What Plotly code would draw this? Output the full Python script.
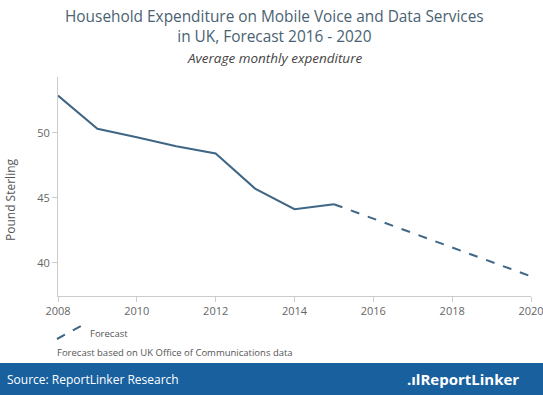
import plotly.graph_objects as go

actual_years = [2008, 2009, 2010, 2011, 2012, 2013, 2014, 2015]
actual_values = [52.85, 50.3, 49.65, 48.95, 48.4, 45.7, 44.12, 44.5]
forecast_years = [2015, 2016, 2017, 2018, 2019, 2020]
forecast_values = [44.5, 43.4, 42.3, 41.2, 40.1, 38.95]
x_ticks = [2008, 2010, 2012, 2014, 2016, 2018, 2020]
y_ticks = [40, 45, 50]

LINE = "#3f6684"
FONT = "Open Sans"

fig = go.Figure()
fig.add_trace(go.Scatter(x=actual_years, y=actual_values, mode="lines",
                         line=dict(color=LINE, width=2), showlegend=False, hoverinfo="skip"))
fig.add_trace(go.Scatter(x=forecast_years, y=forecast_values, mode="lines",
                         line=dict(color=LINE, width=2, dash="dash"), showlegend=False, hoverinfo="skip"))

W, H = 543, 395
L, R, T, B = 58, 12, 77, 99
PW, PH = W - L - R, H - T - B

fig.update_layout(
    width=W, height=H,
    margin=dict(l=L, r=R, t=T, b=B, pad=0, autoexpand=False),
    paper_bgcolor="white", plot_bgcolor="white",
    font=dict(family=FONT, color="#666666", size=11),
    showlegend=False,
    xaxis=dict(range=[2008, 2020], tickvals=x_ticks, showgrid=False, zeroline=False,
               showline=True, linecolor="#cccccc", linewidth=1,
               ticks="outside", ticklen=5, tickcolor="#cccccc",
               ticklabeloverflow="allow", automargin=False,
               tickfont=dict(size=11, color="#666666")),
    yaxis=dict(range=[37.44, 54.28], tickvals=y_ticks, showgrid=False, zeroline=False,
               showline=True, linecolor="#cccccc", linewidth=1,
               ticks="outside", ticklen=5, tickcolor="#cccccc", automargin=False,
               tickfont=dict(size=11, color="#666666")),
)

def px_x(v):
    return (v - L) / PW

def px_y(v):
    return (H - B - v) / PH

annotations = [
    dict(text="Household Expenditure on Mobile Voice and Data Services<br>in UK, Forecast 2016 - 2020",
         x=px_x(274), y=px_y(4), xref="paper", yref="paper", xanchor="center", yanchor="top",
         showarrow=False, font=dict(size=15.4, color="#4a6272", family=FONT), align="center"),
    dict(text="<i>Average monthly expenditure</i>",
         x=px_x(274), y=px_y(58), xref="paper", yref="paper", xanchor="center", yanchor="middle",
         showarrow=False, font=dict(size=13.5, color="#444444", family=FONT)),
    dict(text="Pound Sterling", x=px_x(10), y=px_y(200), xref="paper", yref="paper",
         xanchor="center", yanchor="middle", textangle=-90, showarrow=False,
         font=dict(size=12, color="#555555", family=FONT)),
    dict(text="Forecast", x=px_x(88), y=px_y(333), xref="paper", yref="paper",
         xanchor="left", yanchor="middle", showarrow=False,
         font=dict(size=9.5, color="#555555", family=FONT)),
    dict(text="Forecast based on UK Office of Communications data", x=px_x(55), y=px_y(352),
         xref="paper", yref="paper", xanchor="left", yanchor="middle", showarrow=False,
         font=dict(size=9.5, color="#555555", family=FONT)),
    dict(text="Source: ReportLinker Research", x=px_x(5), y=px_y(379), xref="paper", yref="paper",
         xanchor="left", yanchor="middle", showarrow=False,
         font=dict(size=12, color="white", family=FONT)),
    dict(text="<b>.ılReportLinker</b>", x=px_x(521), y=px_y(379), xref="paper", yref="paper",
         xanchor="right", yanchor="middle", showarrow=False,
         font=dict(size=15, color="white", family=FONT)),
]
fig.update_layout(annotations=annotations)

fig.add_shape(type="rect", xref="paper", yref="paper", x0=px_x(0), x1=px_x(W), y0=px_y(H), y1=px_y(363),
              fillcolor="#19609f", line=dict(width=0), layer="below")
fig.add_shape(type="line", xref="paper", yref="paper", x0=px_x(57), y0=px_y(339),
              x1=px_x(83), y1=px_y(325), line=dict(color=LINE, width=2, dash="dash"))

fig.write_html("out.html", config={"displayModeBar": False},
               post_script="document.body.style.margin='0';document.body.style.padding='0';")
